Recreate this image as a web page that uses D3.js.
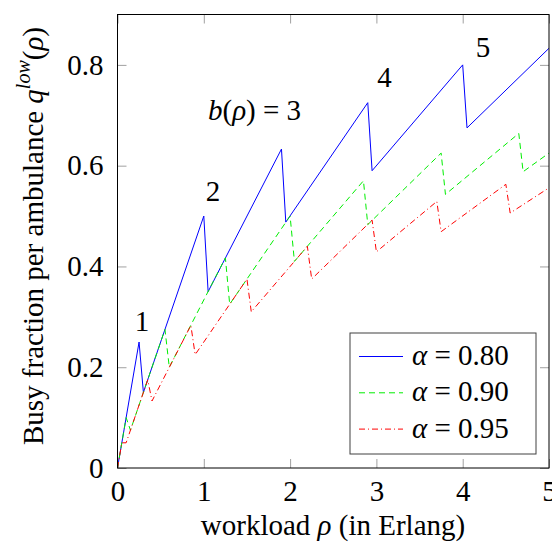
<!DOCTYPE html>
<html>
<head>
<meta charset="utf-8">
<script src="https://cdn.jsdelivr.net/npm/d3@7"></script>
<style>
  body { margin: 0; background: #fff; }
  svg text, svg tspan, .serif { font-family: 'Liberation Serif', 'Times New Roman', serif !important; }
</style>
</head>
<body>
<svg id="chart" width="552" height="549"></svg>
<script>
'use strict';

// workload rho (Erlang) and lower bound on busy fraction, one pair per alpha
const rho80 = [0, 0.25, 0.30, 1.00, 1.05, 1.90, 1.95, 2.90, 2.95, 4.00, 4.05, 5.00];
const q80   = [0, 0.250, 0.150, 0.500, 0.350, 0.633, 0.488, 0.725, 0.590, 0.800, 0.675, 0.833];

const rho90 = [0, 0.10, 0.15, 0.55, 0.60, 1.25, 1.30, 2.00, 2.05, 2.85, 2.90, 3.75, 3.80, 4.65, 4.70, 5.00];
const q90   = [0, 0.100, 0.075, 0.275, 0.200, 0.417, 0.325, 0.500, 0.410, 0.570, 0.483, 0.625, 0.543, 0.664, 0.588, 0.625];

const rho95 = [0, 0.05, 0.10, 0.35, 0.40, 0.85, 0.90, 1.50, 1.55, 2.20, 2.25, 2.95, 3.00, 3.70, 3.75, 4.50, 4.55, 5.00];
const q95   = [0, 0.050, 0.050, 0.175, 0.133, 0.283, 0.225, 0.375, 0.310, 0.440, 0.375, 0.492, 0.429, 0.529, 0.469, 0.563, 0.506, 0.556];

const alphaLabels = ["0.80", "0.90", "0.95"];
const xTicks = [0, 1, 2, 3, 4, 5];
const yTicks = [0, 0.2, 0.4, 0.6, 0.8];
const yTickLabels = ["0", "0.2", "0.4", "0.6", "0.8"];

const FONT = 29;
const SERIF = "'Liberation Serif', 'Times New Roman', serif";
const BOX = { left: 117.5, right: 549, top: 14.5, bottom: 468 };
const TICK = 9;

const svg = d3.select('#chart');

const x = d3.scaleLinear().domain([0, 5]).range([BOX.left, BOX.right]);
const y = d3.scaleLinear().domain([0, 0.9]).range([BOX.bottom, BOX.top]);

function serif(sel) {
    sel.classed('serif', true).style('font-family', SERIF, 'important');
}

// axes: ticks point inward on all four sides
function styleAxis(g) {
    g.attr('font-family', null).attr('font-size', FONT);
    g.select('.domain').remove();
    g.selectAll('.tick line').attr('stroke', '#a0a0a0').attr('stroke-width', 1);
    g.selectAll('.tick text').call(serif).attr('fill', '#000');
}

svg.append('g')
    .attr('transform', `translate(0,${BOX.bottom})`)
    .call(d3.axisBottom(x).tickValues(xTicks).tickFormat(d3.format('d')).tickSize(-TICK).tickPadding(12))
    .call(styleAxis);

svg.append('g')
    .attr('transform', `translate(0,${BOX.top})`)
    .call(d3.axisTop(x).tickValues(xTicks).tickFormat('').tickSize(-TICK))
    .call(styleAxis);

svg.append('g')
    .attr('transform', `translate(${BOX.left},0)`)
    .call(d3.axisLeft(y).tickValues(yTicks).tickFormat((d, i) => yTickLabels[i]).tickSize(-TICK).tickPadding(14))
    .call(styleAxis);

svg.append('g')
    .attr('transform', `translate(${BOX.right},0)`)
    .call(d3.axisRight(y).tickValues(yTicks).tickFormat('').tickSize(-TICK))
    .call(styleAxis);

// series
const series = [
    { rho: rho80, q: q80, color: '#0000ff', dash: null },
    { rho: rho90, q: q90, color: '#00ee00', dash: '6,4' },
    { rho: rho95, q: q95, color: '#ff0000', dash: '6,3,1,3' },
];

const line = d3.line().x(d => x(d[0])).y(d => y(d[1]));

series.forEach((s) => {
    svg.append('path')
        .datum(d3.zip(s.rho, s.q))
        .attr('fill', 'none')
        .attr('stroke', s.color)
        .attr('stroke-width', 1)
        .attr('stroke-dasharray', s.dash)
        .attr('d', line);
});

// frame
svg.append('rect')
    .attr('x', BOX.left)
    .attr('y', BOX.top)
    .attr('width', BOX.right - BOX.left)
    .attr('height', BOX.bottom - BOX.top)
    .attr('fill', 'none')
    .attr('stroke', '#000')
    .attr('stroke-width', 1);

function addText(sel, px, py, anchor) {
    return sel.append('text')
        .call(serif)
        .attr('x', px)
        .attr('y', py)
        .attr('text-anchor', anchor)
        .attr('font-size', FONT)
        .attr('fill', '#000');
}

// b(rho) annotations
const notes = [
    { rho: 0.284, q: 0.272, text: '1' },
    { rho: 1.107, q: 0.530, text: '2' },
    { rho: 3.094, q: 0.757, text: '4' },
    { rho: 4.235, q: 0.8165, text: '5' },
];
notes.forEach((n) => addText(svg, x(n.rho), y(n.q), 'middle').text(n.text));

const bText = addText(svg, x(1.049), y(0.691), 'start');
bText.append('tspan').attr('font-style', 'italic').text('b');
bText.append('tspan').text('(');
bText.append('tspan').attr('font-style', 'italic').text('ρ');
bText.append('tspan').text(') = 3');

// axis labels
const xLabel = addText(svg, 333, 535, 'middle');
xLabel.append('tspan').text('workload ');
xLabel.append('tspan').attr('font-style', 'italic').text('ρ');
xLabel.append('tspan').text(' (in Erlang)');

const yLabel = addText(svg, 0, 0, 'middle')
    .attr('transform', 'translate(43,236) rotate(-90)');
yLabel.append('tspan').text('Busy fraction per ambulance ');
yLabel.append('tspan').attr('font-style', 'italic').text('q');
yLabel.append('tspan').attr('font-style', 'italic').attr('font-size', 20).attr('dy', -13).text('low');
yLabel.append('tspan').attr('dy', 13).text('(');
yLabel.append('tspan').attr('font-style', 'italic').text('ρ');
yLabel.append('tspan').text(')');

// legend
const legend = svg.append('g');
legend.append('rect')
    .attr('x', 350)
    .attr('y', 333)
    .attr('width', 186)
    .attr('height', 121)
    .attr('fill', '#fff')
    .attr('stroke', '#404040')
    .attr('stroke-width', 1);

series.forEach((s, i) => {
    const base = 365 + i * 36.3;
    legend.append('line')
        .attr('x1', 359).attr('x2', 403)
        .attr('y1', base - 8.5).attr('y2', base - 8.5)
        .attr('stroke', s.color)
        .attr('stroke-width', 1)
        .attr('stroke-dasharray', s.dash);
    const t = addText(legend, 412, base, 'start');
    t.append('tspan').attr('font-style', 'italic').text('α');
    t.append('tspan').text(' = ' + alphaLabels[i]);
});
</script>
</body>
</html>
